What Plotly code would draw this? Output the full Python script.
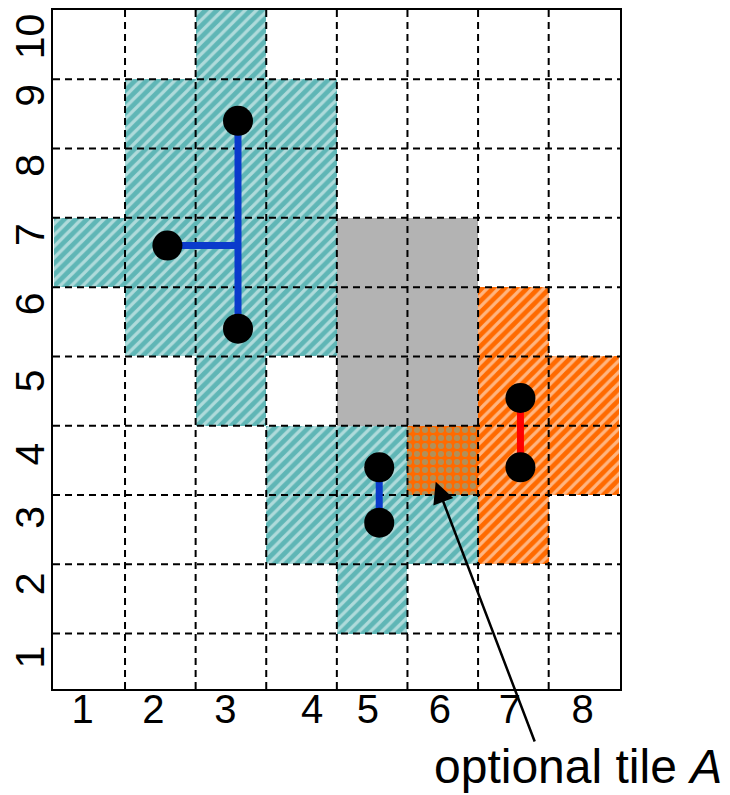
import numpy as np
import plotly.graph_objects as go

# ---- data ----
cols = [1, 2, 3, 4, 5, 6, 7, 8]
rows = [1, 2, 3, 4, 5, 6, 7, 8, 9, 10]

teal_col = [1, 2, 3, 4, 4, 5, 6]
teal_from = [7, 6, 5, 6, 3, 2, 3]
teal_to = [7, 9, 10, 9, 4, 4, 3]

gray_col = [5, 6]
gray_from = [5, 5]
gray_to = [7, 7]

orange_col = [7, 8]
orange_from = [3, 4]
orange_to = [6, 5]

mixed_col = [6]
mixed_from = [4]
mixed_to = [4]

# points (piece centres, slightly offset inside cells)
blue1_x = [3.1, 2.1, 3.1]
blue1_y = [8.9, 7.1, 5.9]
blue2_x = [5.1, 5.1]
blue2_y = [3.9, 3.1]
red_x = [7.1, 7.1]
red_y = [4.9, 3.9]

x_tick_pos = [0.9, 1.9, 2.92, 4.15, 4.94, 5.96, 6.95, 7.98]
y_tick_pos = [1.07, 2.13, 3.09, 4.0, 5.06, 6.17, 7.17, 8.17, 9.18, 10.03]

arrow_head = (5.9, 3.69)
arrow_tail = (7.31, -0.08)
note_pos = (0.926, -0.114)   # paper fraction
note = "optional tile <i>A</i>"

XR = [0.48, 8.51]
YR = [0.70, 10.5]

fig = go.Figure()

def add_bars(c, f, t, bg, fg, shape, size, solid):
    base = [a - 0.5 for a in f]
    h = [b - a + 1 for a, b in zip(f, t)]
    fig.add_trace(go.Bar(
        x=c, y=h, base=base, width=1,
        marker=dict(color=bg, line=dict(width=0),
                    pattern=dict(shape=shape, bgcolor=bg, fgcolor=fg,
                                 size=size, solidity=solid)),
        hoverinfo="skip", showlegend=False))

add_bars(teal_col, teal_from, teal_to, "#5fb6b6", "#ffffff", "/", 8, 0.4)
add_bars(orange_col, orange_from, orange_to, "#ff6a00", "#ffffff", "/", 8, 0.4)
add_bars(gray_col, gray_from, gray_to, "#b3b3b3", "#b3b3b3", "", 8, 0.3)
add_bars(mixed_col, mixed_from, mixed_to, "#ff6a00", "#5fb6b6", ".", 8, 0.45)

# dashed grid above the tiles
gx, gy = [], []
for b in np.arange(1.5, 8.5, 1.0):
    gx += [b, b, None]
    gy += [YR[0], YR[1], None]
for b in np.arange(1.5, 10.5, 1.0):
    gx += [XR[0], XR[1], None]
    gy += [b, b, None]
fig.add_trace(go.Scatter(x=gx, y=gy, mode="lines",
                         line=dict(color="black", width=2, dash="7px,5px"),
                         hoverinfo="skip", showlegend=False))

# connectors
fig.add_trace(go.Scatter(x=[blue1_x[0], blue1_x[2]], y=[blue1_y[0], blue1_y[2]],
                         mode="lines", line=dict(color="#0a3acc", width=7),
                         showlegend=False, hoverinfo="skip"))
fig.add_trace(go.Scatter(x=[blue1_x[1], blue1_x[0]], y=[blue1_y[1], blue1_y[1]],
                         mode="lines", line=dict(color="#0a3acc", width=7),
                         showlegend=False, hoverinfo="skip"))
fig.add_trace(go.Scatter(x=blue2_x, y=blue2_y, mode="lines",
                         line=dict(color="#0a3acc", width=7),
                         showlegend=False, hoverinfo="skip"))
fig.add_trace(go.Scatter(x=red_x, y=red_y, mode="lines",
                         line=dict(color="#ff0000", width=7),
                         showlegend=False, hoverinfo="skip"))
# dots
fig.add_trace(go.Scatter(x=blue1_x + blue2_x + red_x, y=blue1_y + blue2_y + red_y,
                         mode="markers", marker=dict(color="black", size=30),
                         showlegend=False, hoverinfo="skip"))

fig.add_annotation(x=arrow_head[0], y=arrow_head[1], ax=arrow_tail[0], ay=arrow_tail[1],
                   xref="x", yref="y", axref="x", ayref="y", text="",
                   showarrow=True, arrowhead=2, arrowsize=1.7, arrowwidth=2.5,
                   arrowcolor="black", standoff=0, startstandoff=0)
fig.add_annotation(x=note_pos[0], y=note_pos[1], xref="paper", yref="paper", text=note,
                   showarrow=False, font=dict(size=48, color="black"),
                   xanchor="center", yanchor="middle")

fig.update_layout(
    width=730, height=795,
    margin=dict(l=45, r=118, t=2, b=114),
    paper_bgcolor="white", plot_bgcolor="white",
    barmode="overlay", bargap=0,
    font=dict(family="Liberation Sans, Arial, sans-serif", size=40, color="black"),
)
fig.update_xaxes(range=XR, tickvals=x_tick_pos, ticktext=[str(c) for c in cols],
                 showgrid=False, zeroline=False, showline=True, mirror=True,
                 linecolor="black", linewidth=2, ticks="", ticklabelstandoff=-16,
                 automargin=False, tickfont=dict(size=40))
fig.update_yaxes(range=YR, tickvals=y_tick_pos, ticktext=[str(r) for r in rows],
                 showgrid=False, zeroline=False, showline=True, mirror=True,
                 linecolor="black", linewidth=2, ticks="", tickangle=-90,
                 ticklabelstandoff=-9, automargin=False, tickfont=dict(size=41))
fig.write_html("out.html")
